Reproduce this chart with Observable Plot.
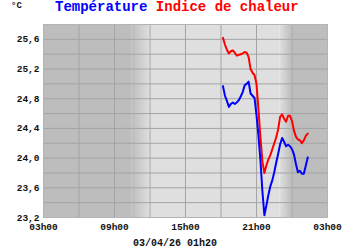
<!DOCTYPE html>
<html>
<head>
<meta charset="utf-8">
<script src="https://cdn.jsdelivr.net/npm/d3@7"></script>
<script src="https://cdn.jsdelivr.net/npm/@observablehq/plot@0.6"></script>
<style>
  html, body { margin: 0; padding: 0; background: #fff; }
</style>
</head>
<body>
<div id="chart"></div>
<script>
// ---- data ----
const unit = "°C";
const titleTemp = "Température";
const titleHeat = "Indice de chaleur";
const caption = "03/04/26 01h20";

const times = ["18:10","18:20","18:30","18:40","18:50",
  "19:00","19:10","19:20","19:30","19:40","19:50",
  "20:00","20:10","20:20","20:30","20:40","20:50",
  "21:00","21:10","21:20","21:30","21:40","21:50",
  "22:00","22:10","22:20","22:30","22:40","22:50",
  "23:00","23:10","23:20","23:30","23:40","23:50",
  "00:00","00:10","00:20","00:30","00:40","00:50",
  "01:00","01:10","01:20"];

const temperature = [24.97,24.84,24.77,24.69,24.73,
  24.75,24.73,24.75,24.78,24.83,24.89,
  24.98,25.00,25.03,24.87,24.84,24.81,
  24.58,24.30,23.97,23.55,23.23,23.36,
  23.50,23.62,23.70,23.81,23.94,24.06,
  24.19,24.27,24.22,24.16,24.18,24.16,
  24.12,24.05,23.92,23.81,23.83,23.79,
  23.79,23.90,24.01];

const heatIndex = [25.62,25.53,25.46,25.41,25.44,
  25.45,25.42,25.38,25.39,25.40,25.41,
  25.43,25.42,25.36,25.20,25.15,25.12,
  25.00,24.65,24.28,23.95,23.80,23.90,
  23.98,24.04,24.12,24.20,24.28,24.39,
  24.56,24.59,24.53,24.49,24.57,24.57,
  24.50,24.37,24.29,24.25,24.24,24.20,
  24.24,24.30,24.33];

const yTicks = [23.2, 23.6, 24.0, 24.4, 24.8, 25.2, 25.6];
const yGrid = [23.4, 23.6, 23.8, 24.0, 24.2, 24.4, 24.6, 24.8, 25.0, 25.2, 25.4, 25.6];
const yDomain = [23.2, 25.8];
const xDomain = ["2026-04-02T03:00Z", "2026-04-03T03:00Z"];
const xTicks = ["2026-04-02T03:00Z","2026-04-02T09:00Z","2026-04-02T15:00Z","2026-04-02T21:00Z","2026-04-03T03:00Z"];
const xGrid = ["2026-04-02T06:00Z","2026-04-02T09:00Z","2026-04-02T12:00Z","2026-04-02T15:00Z","2026-04-02T18:00Z","2026-04-02T21:00Z","2026-04-03T00:00Z"];

// day / night background bands
const bandStart = ["2026-04-02T03:00Z","2026-04-02T10:30Z","2026-04-02T12:00Z","2026-04-02T23:00Z","2026-04-03T00:00Z"];
const bandEnd   = ["2026-04-02T10:30Z","2026-04-02T12:00Z","2026-04-02T23:00Z","2026-04-03T00:00Z","2026-04-03T03:00Z"];
const bandFill  = ["#bdbdbd","url(#dawn)","#dfdfdf","url(#dusk)","#bdbdbd"];

// ---- build ----
const toDate = (hm) => {
  const [h, m] = hm.split(":").map(Number);
  const day = h < 12 ? 3 : 2;
  return new Date(Date.UTC(2026, 3, day, h, m));
};
const series = times.map((t, i) => ({time: toDate(t), temp: temperature[i], heat: heatIndex[i]}));
const bands = bandStart.map((s, i) => ({x1: new Date(s), x2: new Date(bandEnd[i]), fill: bandFill[i]}));

const fmtY = d => d.toFixed(1).replace(".", ",");

const chart = Plot.plot({
  width: 350,
  height: 250,
  marginLeft: 43,
  marginRight: 23,
  marginTop: 24,
  marginBottom: 33,
  style: {fontFamily: "'Liberation Mono', monospace", fontWeight: "bold", background: "#fff", color: "#111"},
  x: {type: "utc", domain: xDomain.map(d => new Date(d)), label: null},
  y: {domain: yDomain, label: null},
  marks: [
    ...bands.map(b => Plot.rect([b], {x1: "x1", x2: "x2", y1: () => yDomain[0], y2: () => yDomain[1], fill: b.fill})),
    Plot.ruleY(yGrid, {stroke: "#a4a4a4", strokeWidth: 1}),
    Plot.ruleX(xGrid.map(d => new Date(d)), {stroke: "#a4a4a4", strokeWidth: 1}),
    Plot.frame({stroke: "#b4b4b4"}),
    Plot.axisY(yTicks, {tickSize: 0, tickPadding: 4, tickFormat: fmtY, fontSize: 9.5, fill: "#111"}),
    Plot.axisX(xTicks.map(d => new Date(d)), {tickSize: 0, tickPadding: 6, tickFormat: d3.utcFormat("%Hh%M"), fontSize: 9.5, fill: "#111"}),
    Plot.line(series, {x: "time", y: "heat", stroke: "#ff0000", strokeWidth: 2}),
    Plot.line(series, {x: "time", y: "temp", stroke: "#0000ff", strokeWidth: 2})
  ]
});

const svg = d3.select(chart);
const defs = svg.insert("defs", ":first-child");
const grad = (id, a, b) => {
  const g = defs.append("linearGradient").attr("id", id).attr("x1", 0).attr("x2", 1).attr("y1", 0).attr("y2", 0);
  g.append("stop").attr("offset", 0).attr("stop-color", a);
  g.append("stop").attr("offset", 1).attr("stop-color", b);
};
grad("dawn", "#bdbdbd", "#dfdfdf");
grad("dusk", "#dfdfdf", "#bdbdbd");

svg.append("text").attr("x", 11).attr("y", 8).attr("text-anchor", "start").attr("font-size", 9).attr("fill", "#111").text(unit);
const t = svg.append("text").attr("x", 55).attr("y", 10.5).attr("text-anchor", "start").attr("font-size", 14);
t.append("tspan").attr("fill", "#0000ff").text(titleTemp);
t.append("tspan").attr("fill", "#ff0000").text(" " + titleHeat);
svg.append("text").attr("x", 175).attr("y", 246).attr("text-anchor", "middle").attr("font-size", 10).attr("fill", "#111").text(caption);

document.getElementById("chart").appendChild(chart);
</script>
</body>
</html>
